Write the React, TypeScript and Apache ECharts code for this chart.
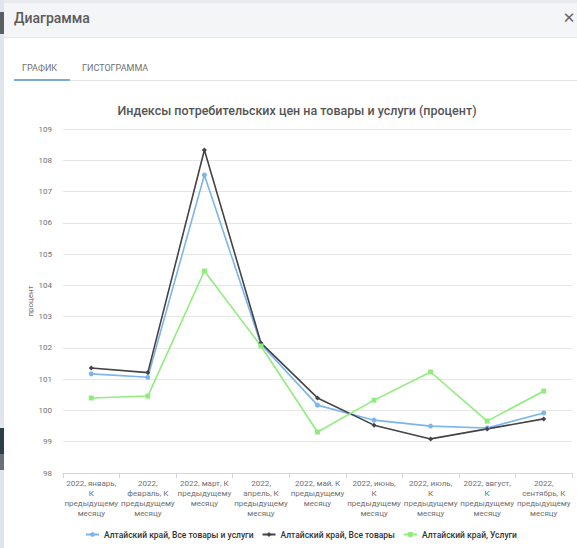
import React, { useEffect, useRef } from "react";
import * as echarts from "echarts";

const categories = [
  "2022, январь,\nК\nпредыдущему\nмесяцу",
  "2022,\nфевраль, К\nпредыдущему\nмесяцу",
  "2022, март, К\nпредыдущему\nмесяцу",
  "2022,\nапрель, К\nпредыдущему\nмесяцу",
  "2022, май, К\nпредыдущему\nмесяцу",
  "2022, июнь,\nК\nпредыдущему\nмесяцу",
  "2022, июль,\nК\nпредыдущему\nмесяцу",
  "2022, август,\nК\nпредыдущему\nмесяцу",
  "2022,\nсентябрь, К\nпредыдущему\nмесяцу",
];

const allGoodsServices = [101.17, 101.06, 107.53, 102.12, 100.17, 99.69, 99.5, 99.44, 99.92];
const allGoods = [101.36, 101.21, 108.33, 102.16, 100.4, 99.53, 99.09, 99.41, 99.73];
const services = [100.4, 100.46, 104.46, 102.06, 99.31, 100.33, 101.23, 99.66, 100.62];

const seriesNames = [
  "Алтайский край, Все товары и услуги",
  "Алтайский край, Все товары",
  "Алтайский край, Услуги",
];

const chartTitle = "Индексы потребительских цен на товары и услуги (процент)";
const yAxisName = "процент";

export default function App() {
  const ref = useRef<HTMLDivElement>(null);
  useEffect(() => {
    if (!ref.current) return;
    const chart = echarts.init(ref.current, null, { renderer: "svg" });
    const font = "Roboto, 'Open Sans', sans-serif";
    const mk = (name: string, data: number[], color: string, symbol: string, size: number) => ({
      type: "line",
      name,
      data,
      symbol,
      symbolSize: size,
      showSymbol: true,
      itemStyle: { color },
      lineStyle: { color, width: 1.6 },
    });
    chart.setOption({
      animation: false,
      backgroundColor: "#ffffff",
      textStyle: { fontFamily: font },
      title: {
        text: chartTitle,
        left: 292,
        top: 99,
        textAlign: "center",
        textStyle: { fontSize: 12.5, fontWeight: 500, color: "#555555", fontFamily: font },
      },
      grid: { left: 63, right: 5, top: 129, bottom: 75, containLabel: false },
      legend: {
        bottom: 4,
        left: 80,
        itemWidth: 13,
        itemHeight: 6,
        itemGap: 8,
        textStyle: { fontSize: 8.5, fontWeight: 500, color: "#333333", fontFamily: font },
        data: seriesNames,
      },
      xAxis: {
        type: "category",
        data: categories,
        boundaryGap: true,
        axisLine: { lineStyle: { color: "#ccd6eb" } },
        axisTick: { show: true, length: 5, lineStyle: { color: "#ccd6eb" } },
        axisLabel: { interval: 0, fontSize: 8, lineHeight: 10, color: "#707070", margin: 5 },
      },
      yAxis: {
        type: "value",
        min: 98,
        max: 109,
        interval: 1,
        name: yAxisName,
        nameLocation: "middle",
        nameGap: 29,
        nameMoveOverlap: false,
        nameTextStyle: { fontSize: 8, color: "#707070" },
        axisLine: { show: false },
        axisTick: { show: false },
        axisLabel: { fontSize: 8, color: "#707070", margin: 11 },
        splitLine: { lineStyle: { color: "#e6e6e6" } },
      },
      series: [
        mk(seriesNames[0], allGoodsServices, "#7cb5ec", "circle", 5),
        mk(seriesNames[1], allGoods, "#434348", "diamond", 5),
        mk(seriesNames[2], services, "#90ed7d", "rect", 5),
      ],
      graphic: [
        { type: "rect", shape: { x: 0, y: 0, width: 4, height: 548 }, style: { fill: "#dfe5ea" } },
        { type: "rect", shape: { x: 0, y: 12, width: 4, height: 22 }, style: { fill: "#5a5f63" } },
        { type: "rect", shape: { x: 0, y: 428, width: 4, height: 26 }, style: { fill: "#2a3f47" } },
        { type: "rect", shape: { x: 0, y: 454, width: 4, height: 16 }, style: { fill: "#6b7074" } },
        { type: "rect", shape: { x: 4, y: 0, width: 573, height: 3 }, style: { fill: "#e8ebee" } },
        { type: "rect", shape: { x: 4, y: 3, width: 573, height: 34 }, style: { fill: "#f4f5f7" } },
        { type: "rect", shape: { x: 4, y: 37, width: 573, height: 1 }, style: { fill: "#e3e5e8" } },
        {
          type: "text",
          x: 14,
          y: 18,
          style: { text: "Диаграмма", fontSize: 14, fontWeight: 500, fill: "#5a5a5a", fontFamily: font, textVerticalAlign: "middle" },
        },
        {
          type: "text",
          x: 569,
          y: 18,
          style: { text: "✕", fontSize: 15, fontWeight: "bold", fill: "#666666", fontFamily: "DejaVu Sans", textAlign: "center", textVerticalAlign: "middle" },
        },
        {
          type: "text",
          x: 22,
          y: 68,
          style: { text: "ГРАФИК", fontSize: 9, fill: "#707070", fontFamily: font, textVerticalAlign: "middle" },
        },
        {
          type: "text",
          x: 82,
          y: 68,
          style: { text: "ГИСТОГРАММА", fontSize: 9, fill: "#707070", fontFamily: font, textVerticalAlign: "middle" },
        },
        { type: "rect", shape: { x: 14, y: 80, width: 563, height: 1 }, style: { fill: "#e4e6e8" } },
        { type: "rect", shape: { x: 14, y: 79, width: 56, height: 2 }, style: { fill: "#7aaad6" } },
      ],
    });
    return () => chart.dispose();
  }, []);
  return (
    <div style={{ position: "absolute", left: 0, top: 0, width: 577, height: 548 }}>
      <div ref={ref} style={{ width: 577, height: 548 }} />
    </div>
  );
}
